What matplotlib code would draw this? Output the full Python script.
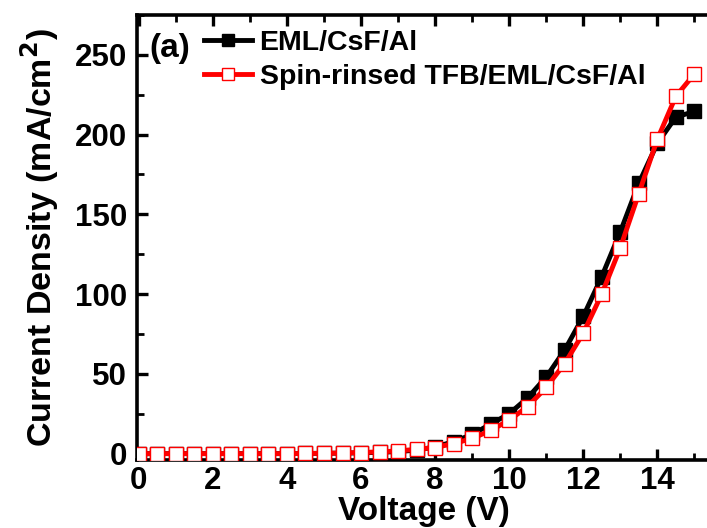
import numpy as np
import matplotlib
matplotlib.use("Agg")
import matplotlib.pyplot as plt
from matplotlib.ticker import MultipleLocator

plt.rcParams['font.family'] = ['Liberation Sans', 'DejaVu Sans']
plt.rcParams['font.weight'] = 'bold'
plt.rcParams['mathtext.default'] = 'bf'

# Bias voltage (V)
voltage = [0.0, 0.5, 1.0, 1.5, 2.0, 2.5, 3.0, 3.5, 4.0, 4.5, 5.0, 5.5, 6.0, 6.5,
           7.0, 7.5, 8.0, 8.5, 9.0, 9.5, 10.0, 10.5, 11.0, 11.5, 12.0, 12.5,
           13.0, 13.5, 14.0, 14.5, 15.0]

# Current density (mA/cm^2)
j_eml = [0.0, 0.0, 0.0, 0.0, 0.0, 0.0, 0.0, 0.0, 0.0, 0.1, 0.2, 0.3, 0.5, 0.8,
         1.3, 2.2, 4.2, 7.5, 12.0, 18.5, 25.0, 35.0, 48.0, 65.0, 86.0, 111.0,
         139.0, 169.5, 194.5, 211.0, 214.5]
j_tfb = [0.0, 0.0, 0.0, 0.0, 0.0, 0.0, 0.0, 0.0, 0.0, 0.1, 0.2, 0.4, 0.7, 1.1,
         1.7, 2.7, 3.8, 6.3, 9.5, 14.5, 21.0, 29.5, 41.5, 56.5, 75.5, 100.0,
         129.0, 163.0, 197.0, 224.0, 238.0]

labels = ['EML/CsF/Al', 'Spin-rinsed TFB/EML/CsF/Al']

fig = plt.figure(figsize=(7.07, 5.28), dpi=100)
ax = fig.add_axes([137 / 707, 68 / 528, 574 / 707, 445 / 528])

ax.plot(voltage, j_eml, '-s', color='black', lw=3.5, ms=9.5,
        mfc='black', mec='black', label=labels[0], zorder=3)
ax.plot(voltage, j_tfb, '-s', color='#ff0000', lw=3.5, ms=10,
        mfc='white', mec='#ff0000', mew=1.0, label=labels[1], zorder=4)

ax.set_xlim(-0.05, 15.45)
ax.set_ylim(-4, 275)
ax.xaxis.set_major_locator(MultipleLocator(2))
ax.xaxis.set_minor_locator(MultipleLocator(1))
ax.yaxis.set_major_locator(MultipleLocator(50))
ax.yaxis.set_minor_locator(MultipleLocator(25))

for s in ax.spines.values():
    s.set_linewidth(2.6)

ax.tick_params(axis='both', which='major', direction='in', length=8, width=2.4,
               labelsize=22.5)
ax.tick_params(axis='both', which='minor', direction='in', length=5, width=2.0)
ax.tick_params(axis='x', which='both', top=True)
ax.tick_params(axis='x', which='major', pad=4)
ax.tick_params(axis='y', which='major', pad=7)
for lab in ax.get_xticklabels() + ax.get_yticklabels():
    lab.set_fontweight('bold')

ax.set_xlabel('Voltage (V)', fontsize=24, fontweight='bold', labelpad=0)
ax.set_ylabel('Current Density (mA/cm$^2$)', fontsize=24.5, fontweight='bold',
              labelpad=10)

leg = ax.legend(loc='upper left', bbox_to_anchor=(0.082, 1.012), frameon=False,
                prop={'size': 20.5, 'weight': 'bold'}, handlelength=1.7,
                handletextpad=0.25, labelspacing=0.28, borderaxespad=0.3,
                markerscale=0.85)

ax.text(0.022, 0.925, '(a)', transform=ax.transAxes, fontsize=24,
        fontweight='bold', va='center', ha='left')

fig.savefig('out.png', dpi=100)
